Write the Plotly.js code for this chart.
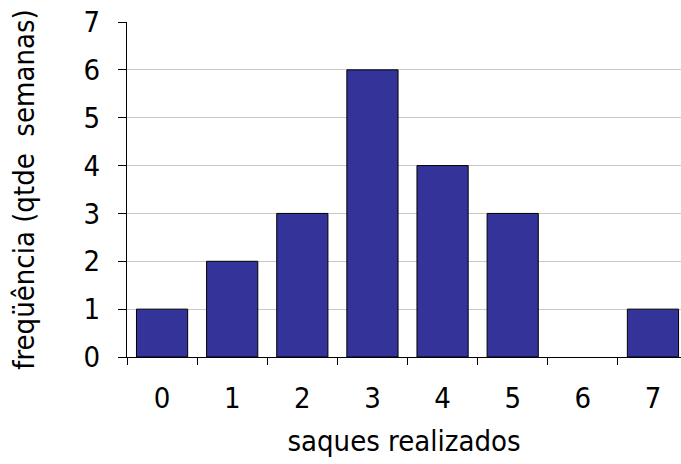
<!DOCTYPE html>
<html><head><meta charset="utf-8">
<script src="https://cdn.plot.ly/plotly-3.0.1.min.js"></script>
<style>html,body{margin:0;padding:0;background:#fff;overflow:hidden}</style>
</head><body><div id="chart" style="width:681px;height:464px"></div>
<script>
const categories = ["0","1","2","3","4","5","6","7"];
const frequencies = [1,2,3,6,4,3,0,1];
const yTicks = [0,1,2,3,4,5,6,7];
const xTitle = "saques realizados";
const yTitle = "freqüência (qtde  semanas)";
const font = "'DejaVu Sans Condensed', Tahoma, 'DejaVu Sans', sans-serif";
Plotly.newPlot("chart", [{
  type: "bar", x: categories, y: frequencies,
  marker: {color: "#333399", line: {color: "#000", width: frequencies.map(v => v > 0 ? 1 : 0)}},
  hoverinfo: "none"
}], {
  width: 681, height: 464,
  margin: {l: 127, r: 0, t: 22, b: 107},
  paper_bgcolor: "#fff", plot_bgcolor: "#fff",
  bargap: 0.27, showlegend: false,
  font: {family: font, color: "#000", size: 29},
  xaxis: {type: "category", range: [-0.5, 7.4], tickson: "boundaries",
    ticks: "outside", ticklen: 7, tickcolor: "#000", showline: true, linecolor: "#000", linewidth: 1,
    showgrid: false, ticklabelstandoff: 15, tickfont: {size: 29}, title: {text: xTitle, font: {size: 29}, standoff: 16}},
  yaxis: {range: [0, 7], tickvals: yTicks, ticks: "outside", ticklen: 8, tickcolor: "#000",
    showline: true, linecolor: "#000", linewidth: 1, showgrid: true, gridcolor: "#c8c8c8",
    ticklabelstandoff: 12, zeroline: false, tickfont: {size: 29}, title: {text: yTitle, font: {size: 29}, standoff: 40}}
}, {staticPlot: true});
</script></body></html>
